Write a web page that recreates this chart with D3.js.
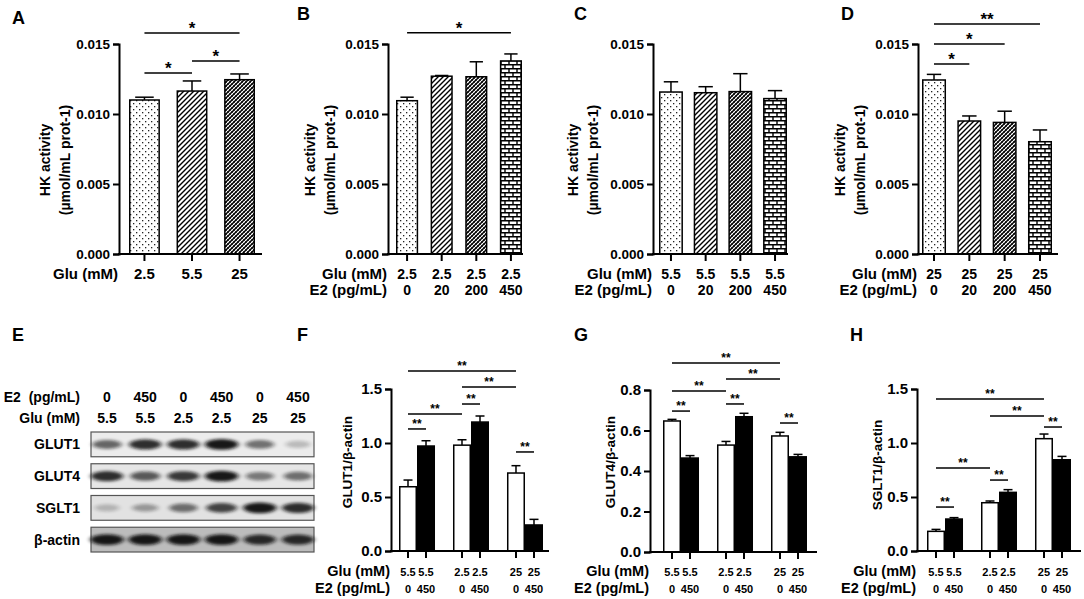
<!DOCTYPE html>
<html lang="en">
<head>
<meta charset="utf-8">
<title>HK activity and glucose transporter expression</title>
<script src="https://cdn.jsdelivr.net/npm/d3@7"></script>
<style>
  body { margin: 0; background: #fff; }
  svg text { font-family: "Liberation Sans", Arial, sans-serif; font-weight: bold; fill: #000; }
  .axis path, .axis line { stroke: #000; stroke-width: 2; fill: none; }
  .axis text { font-family: "Liberation Sans", Arial, sans-serif; font-weight: bold; }
</style>
</head>
<body>
<script>
// ---- data: HK activity (top row) ----
var hkTicks = [0, 0.005, 0.010, 0.015];

var gluA = ["2.5", "5.5", "25"];
var hkA = [0.01100, 0.01164, 0.01245];
var hkAerr = [0.00020, 0.00072, 0.00041];
var sigA = [[0, 2, 0.01579, "*"], [1, 2, 0.01379, "*"], [0, 1, 0.01293, "*"]];

var e2Top = ["0", "20", "200", "450"];

var gluB = ["2.5", "2.5", "2.5", "2.5"];
var hkB = [0.01095, 0.01270, 0.01266, 0.01379];
var hkBerr = [0.00025, 0.00005, 0.00107, 0.00050];
var sigB = [[0, 3, 0.01580, "*"]];

var gluC = ["5.5", "5.5", "5.5", "5.5"];
var hkC = [0.01157, 0.01152, 0.01160, 0.01110];
var hkCerr = [0.00073, 0.00043, 0.00128, 0.00057];
var sigC = [];

var gluD = ["25", "25", "25", "25"];
var hkD = [0.01243, 0.00950, 0.00940, 0.00802];
var hkDerr = [0.00040, 0.00036, 0.00080, 0.00084];
var sigD = [[0, 3, 0.01643, "**"], [0, 2, 0.01500, "*"], [0, 1, 0.01357, "*"]];

// ---- data: western blot (E) ----
var blotE2 = ["0", "450", "0", "450", "0", "450"];
var blotGlu = ["5.5", "5.5", "2.5", "2.5", "25", "25"];
var blotRows = ["GLUT1", "GLUT4", "SGLT1", "β-actin"];
var bandGLUT1 = [0.60, 0.85, 0.85, 0.95, 0.55, 0.22];
var bandGLUT4 = [0.85, 0.65, 0.80, 0.95, 0.50, 0.55];
var bandSGLT1 = [0.22, 0.35, 0.55, 0.75, 0.95, 0.85];
var bandActin = [0.95, 0.95, 0.95, 0.95, 0.85, 0.85];

// ---- data: densitometry (F, G, H) ----
var gluBottom = ["5.5", "5.5", "2.5", "2.5", "25", "25"];
var e2Bottom = ["0", "450", "0", "450", "0", "450"];

var glut1 = [0.595, 0.972, 0.980, 1.194, 0.722, 0.241];
var glut1Err = [0.062, 0.049, 0.050, 0.056, 0.068, 0.052];
var sigF = [[0, 4, 1.667, "**"], [2, 4, 1.519, "**"], [2, 3, 1.361, "**"], [0, 2, 1.269, "**"], [0, 1, 1.130, "**"], [4, 5, 0.917, "**"]];

var glut4 = [0.647, 0.464, 0.528, 0.668, 0.573, 0.470];
var glut4Err = [0.008, 0.012, 0.018, 0.017, 0.018, 0.012];
var sigG = [[0, 4, 0.933, "**"], [2, 4, 0.854, "**"], [0, 2, 0.795, "**"], [2, 3, 0.731, "**"], [0, 1, 0.696, "**"], [4, 5, 0.637, "**"]];

var sglt1 = [0.182, 0.296, 0.447, 0.543, 1.040, 0.845];
var sglt1Err = [0.018, 0.013, 0.016, 0.025, 0.043, 0.031];
var sigH = [[0, 4, 1.407, "**"], [2, 4, 1.250, "**"], [4, 5, 1.148, "**"], [0, 2, 0.769, "**"], [2, 3, 0.657, "**"], [0, 1, 0.407, "**"]];

var w = 1084;
var h = 599;
var svg = d3.select("body").append("svg").attr("width", w).attr("height", h);
var defs = svg.append("defs");

// fill patterns used by Prism-style bars
var pDots = defs.append("pattern").attr("id", "dots").attr("patternUnits", "userSpaceOnUse")
    .attr("width", 6).attr("height", 6);
pDots.append("rect").attr("width", 6).attr("height", 6).attr("fill", "#fff");
pDots.append("rect").attr("x", 1).attr("y", 1).attr("width", 1.3).attr("height", 1.3).attr("fill", "#222");
pDots.append("rect").attr("x", 4).attr("y", 4).attr("width", 1.3).attr("height", 1.3).attr("fill", "#222");

var pDiag = defs.append("pattern").attr("id", "diag").attr("patternUnits", "userSpaceOnUse")
    .attr("width", 5).attr("height", 5);
pDiag.append("rect").attr("width", 5).attr("height", 5).attr("fill", "#fff");
pDiag.append("path").attr("d", "M-1,1 l2,-2 M0,5 l5,-5 M4,6 l2,-2")
    .attr("stroke", "#000").attr("stroke-width", 1.4);

var pDense = defs.append("pattern").attr("id", "dense").attr("patternUnits", "userSpaceOnUse")
    .attr("width", 4).attr("height", 4);
pDense.append("rect").attr("width", 4).attr("height", 4).attr("fill", "#fff");
pDense.append("path").attr("d", "M-1,1 l2,-2 M0,4 l4,-4 M3,5 l2,-2")
    .attr("stroke", "#000").attr("stroke-width", 1.5);
pDense.append("path").attr("d", "M0,0 l4,4 M-1,3 l2,2 M3,-1 l2,2")
    .attr("stroke", "#000").attr("stroke-width", 0.6);

var pBrick = defs.append("pattern").attr("id", "brick").attr("patternUnits", "userSpaceOnUse")
    .attr("width", 8).attr("height", 8);
pBrick.append("rect").attr("width", 8).attr("height", 8).attr("fill", "#fff");
pBrick.append("path").attr("d", "M0,0.7 H8 M0,4.7 H8 M1,0 V4 M5,4 V8")
    .attr("stroke", "#000").attr("stroke-width", 1.4);

var blur = defs.append("filter").attr("id", "blur").attr("x", "-50%").attr("y", "-100%")
    .attr("width", "200%").attr("height", "300%");
blur.append("feGaussianBlur").attr("stdDeviation", "2.6 1.6");

var topFills = ["url(#dots)", "url(#diag)", "url(#dense)", "url(#brick)"];
var pairFills = ["#fff", "#000", "#fff", "#000", "#fff", "#000"];

function panelLetter(t, x, y) {
    svg.append("text").attr("x", x).attr("y", y).attr("font-size", "18px").text(t);
}

function barPanel(cfg) {
    var g = svg.append("g");
    var n = cfg.values.length;
    var per = cfg.groupSize || 1;
    var y = d3.scaleLinear().domain([0, cfg.yMax]).range([cfg.yBottom, cfg.yTop]);
    // outer scale for groups, inner scale for bars within a group
    var xg = d3.scaleBand().domain(d3.range(n / per))
               .range([cfg.barX0, cfg.barX1]).paddingInner(cfg.pad);
    var xs = d3.scaleBand().domain(d3.range(per)).range([0, xg.bandwidth()]);
    var bw = xs.bandwidth();
    var xl = function (i) { return xg(Math.floor(i / per)) + xs(i % per); };
    var cx = function (i) { return xl(i) + bw / 2; };

    // error bars (upper only)
    g.selectAll("line.err").data(cfg.values).enter().append("line")
     .attr("x1", function (d, i) { return cx(i); })
     .attr("x2", function (d, i) { return cx(i); })
     .attr("y1", function (d) { return y(d); })
     .attr("y2", function (d, i) { return y(d + cfg.errs[i]); })
     .attr("stroke", "#000").attr("stroke-width", 1.5);
    g.selectAll("line.cap").data(cfg.values).enter().append("line")
     .attr("x1", function (d, i) { return cx(i) - bw * cfg.cap / 2; })
     .attr("x2", function (d, i) { return cx(i) + bw * cfg.cap / 2; })
     .attr("y1", function (d, i) { return y(d + cfg.errs[i]); })
     .attr("y2", function (d, i) { return y(d + cfg.errs[i]); })
     .attr("stroke", "#000").attr("stroke-width", 1.5);

    // bars
    g.selectAll("rect.bar").data(cfg.values).enter().append("rect")
     .attr("x", function (d, i) { return xl(i) + 0.75; })
     .attr("y", function (d) { return y(d); })
     .attr("width", bw - 1.5)
     .attr("height", function (d) { return y(0) - y(d); })
     .attr("fill", function (d, i) { return cfg.fills[i]; })
     .attr("stroke", "#000").attr("stroke-width", 1.5);

    // y axis
    var ya = g.append("g").attr("class", "axis")
              .attr("transform", "translate(" + cfg.axisX0 + ",0)")
              .call(d3.axisLeft(y).tickValues(cfg.ticks).tickFormat(cfg.fmt)
                      .tickSizeOuter(0).tickSize(6).tickPadding(3));
    ya.selectAll("text").attr("font-size", cfg.tickFont + "px");

    // x axis line and ticks
    g.append("line").attr("x1", cfg.axisX0 - 1).attr("x2", cfg.axisX1)
     .attr("y1", y(0)).attr("y2", y(0)).attr("stroke", "#000").attr("stroke-width", 2);
    g.selectAll("line.xt").data(cfg.values).enter().append("line")
     .attr("x1", function (d, i) { return cx(i); })
     .attr("x2", function (d, i) { return cx(i); })
     .attr("y1", y(0)).attr("y2", y(0) + 7)
     .attr("stroke", "#000").attr("stroke-width", 2);

    // category rows under the axis
    cfg.rows.forEach(function (r) {
        g.append("text").attr("x", cfg.axisX0 - 1).attr("y", r.y)
         .attr("text-anchor", "end").attr("font-size", cfg.rowFont + "px").text(r.name);
        g.selectAll(null).data(r.labels).enter().append("text")
         .attr("x", function (d, i) { return cx(i); })
         .attr("y", r.y)
         .attr("text-anchor", "middle").attr("font-size", cfg.catFont + "px")
         .text(function (d) { return d; });
    });

    // y label (one or two lines)
    cfg.yLabel.forEach(function (t, k) {
        g.append("text")
         .attr("transform", "translate(" + (cfg.axisX0 + cfg.yLabelX[k]) + "," + cfg.yLabelY + ") rotate(-90)")
         .attr("text-anchor", "middle").attr("font-size", cfg.yLabelFont + "px").text(t);
    });

    // significance brackets
    g.selectAll("line.sig").data(cfg.sig).enter().append("line")
     .attr("x1", function (d) { return cx(d[0]); })
     .attr("x2", function (d) { return cx(d[1]); })
     .attr("y1", function (d) { return y(d[2]); })
     .attr("y2", function (d) { return y(d[2]); })
     .attr("stroke", "#000").attr("stroke-width", 1.5);
    g.selectAll("text.sig").data(cfg.sig).enter().append("text")
     .attr("x", function (d) { return (cx(d[0]) + cx(d[1])) / 2; })
     .attr("y", function (d) { return y(d[2]) + cfg.starDy; })
     .attr("text-anchor", "middle").attr("font-size", cfg.starFont + "px")
     .text(function (d) { return d[3]; });
}

var topBase = {
    yMax: 0.015, yTop: 44, yBottom: 254, ticks: hkTicks, fmt: d3.format(".3f"),
    tickFont: 13.5, rowFont: 15, catFont: 14, cap: 0.6,
    yLabel: ["HK activity", "(µmol/mL prot-1)"], yLabelY: 160, yLabelFont: 14,
    starFont: 17, starDy: 1
};

function topPanel(extra) { barPanel(Object.assign({}, topBase, extra)); }

topPanel({ axisX0: 119, axisX1: 262, barX0: 129, barX1: 255, pad: 0.35, catFont: 15, yLabelX: [-69, -49],
           values: hkA, errs: hkAerr, fills: topFills, sig: sigA,
           rows: [{ name: "Glu (mM)", y: 278.5, labels: gluA }] });
topPanel({ axisX0: 388, axisX1: 523, barX0: 396, barX1: 522, pad: 0.36, yLabelX: [-73, -53],
           values: hkB, errs: hkBerr, fills: topFills, sig: sigB,
           rows: [{ name: "Glu (mM)", y: 278.5, labels: gluB }, { name: "E2 (pg/mL)", y: 294.5, labels: e2Top }] });
topPanel({ axisX0: 653, axisX1: 788, barX0: 659, barX1: 787, pad: 0.31, yLabelX: [-75, -55],
           values: hkC, errs: hkCerr, fills: topFills, sig: sigC,
           rows: [{ name: "Glu (mM)", y: 278.5, labels: gluC }, { name: "E2 (pg/mL)", y: 294.5, labels: e2Top }] });
topPanel({ axisX0: 918, axisX1: 1058, barX0: 922, barX1: 1052, pad: 0.32, yLabelX: [-73, -53],
           values: hkD, errs: hkDerr, fills: topFills, sig: sigD,
           rows: [{ name: "Glu (mM)", y: 278.5, labels: gluD }, { name: "E2 (pg/mL)", y: 294.5, labels: e2Top }] });

panelLetter("A", 12, 24);
panelLetter("B", 297, 20);
panelLetter("C", 574, 20);
panelLetter("D", 841, 20);

// ---- bottom row: densitometry, bars paired (0 / 450 pg/mL E2) ----
var bottomBase = {
    yMax: 1.5, yTop: 389, yBottom: 551, fmt: d3.format(".1f"),
    tickFont: 15, rowFont: 14.5, catFont: 11, cap: 0.5, groupSize: 2, pad: 0.333,
    yLabelX: [-39], yLabelY: 462, yLabelFont: 13.5,
    starFont: 12, starDy: -1,
    rows: [{ name: "Glu (mM)", y: 576, labels: gluBottom }, { name: "E2 (pg/mL)", y: 593, labels: e2Bottom }],
    fills: pairFills
};
function bottomPanel(extra) { barPanel(Object.assign({}, bottomBase, extra)); }

bottomPanel({ axisX0: 391, axisX1: 549, barX0: 399, barX1: 543,
              ticks: [0, 0.5, 1.0, 1.5], values: glut1, errs: glut1Err, sig: sigF,
              yLabel: ["GLUT1/β-actin"] });
bottomPanel({ axisX0: 650, axisX1: 817, barX0: 663, barX1: 807, yMax: 0.8, yTop: 390, yBottom: 552,
              ticks: [0, 0.2, 0.4, 0.6, 0.8], values: glut4, errs: glut4Err, sig: sigG,
              yLabel: ["GLUT4/β-actin"], yLabelX: [-35] });
bottomPanel({ axisX0: 917, axisX1: 1081, barX0: 927, barX1: 1071,
              ticks: [0, 0.5, 1.0, 1.5], values: sglt1, errs: sglt1Err, sig: sigH,
              yLabel: ["SGLT1/β-actin"], yLabelX: [-35], yLabelY: 465 });

panelLetter("E", 12, 341);
panelLetter("F", 297, 341);
panelLetter("G", 574, 341);
panelLetter("H", 850, 341);

// ---- E: western blot ----
var lane = d3.scalePoint().domain(d3.range(blotE2.length)).range([107, 298]);
var row = d3.scaleBand().domain(blotRows).range([432, 552]).paddingInner(0.22);
var bands = [bandGLUT1, bandGLUT4, bandSGLT1, bandActin];
var blotBg = ["#ececec", "#e6e6e6", "#e2e2e2", "#bcbcbc"];

svg.append("text").attr("x", 80).attr("y", 402).attr("text-anchor", "end")
   .attr("font-size", "14px").text("E2\u00a0 (pg/mL)");
svg.append("text").attr("x", 80).attr("y", 423).attr("text-anchor", "end")
   .attr("font-size", "14px").text("Glu (mM)");
svg.selectAll("text.e2lane").data(blotE2).enter().append("text")
   .attr("x", function (d, i) { return lane(i); }).attr("y", 402)
   .attr("text-anchor", "middle").attr("font-size", "14px").text(function (d) { return d; });
svg.selectAll("text.glulane").data(blotGlu).enter().append("text")
   .attr("x", function (d, i) { return lane(i); }).attr("y", 423)
   .attr("text-anchor", "middle").attr("font-size", "14px").text(function (d) { return d; });

blotRows.forEach(function (name, r) {
    var y0 = row(name);
    var bh = row.bandwidth();
    svg.append("rect").attr("x", 91).attr("y", y0).attr("width", 223).attr("height", bh)
       .attr("fill", blotBg[r]).attr("stroke", "#555").attr("stroke-width", 1.2);
    svg.append("g").selectAll("ellipse").data(bands[r]).enter().append("ellipse")
       .attr("cx", function (d, i) { return lane(i); })
       .attr("cy", y0 + bh / 2)
       .attr("rx", function (d) { return 11 + 6 * d; })
       .attr("ry", function (d) { return 3 + 2.5 * d; })
       .attr("fill", "#111")
       .attr("opacity", function (d) { return d; })
       .attr("filter", "url(#blur)");
    svg.append("text").attr("x", 80).attr("y", y0 + bh / 2 + 5).attr("text-anchor", "end")
       .attr("font-size", "14px").text(name);
});
</script>
</body>
</html>
